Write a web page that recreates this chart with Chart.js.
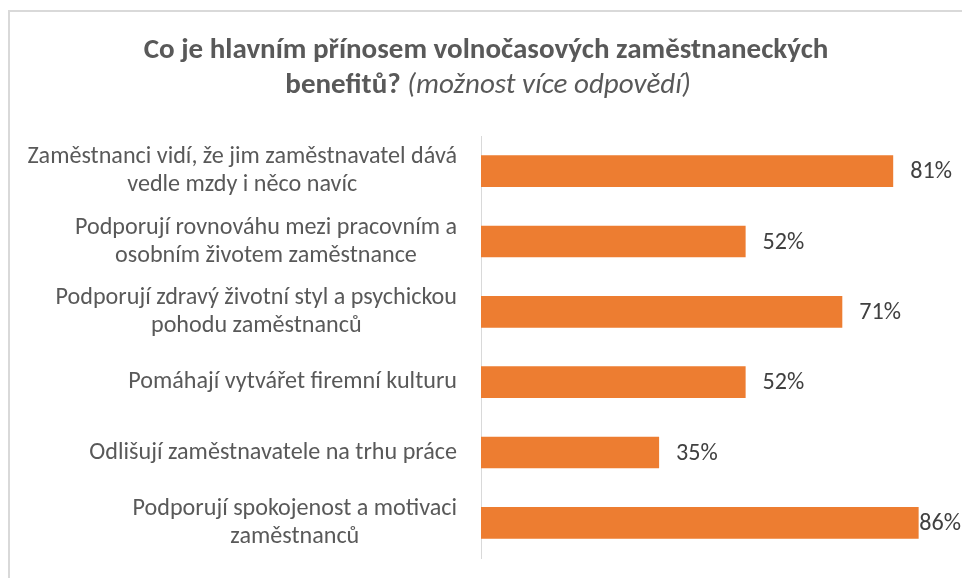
<!DOCTYPE html>
<html>
<head>
<meta charset="utf-8">
<script src="https://cdn.jsdelivr.net/npm/chart.js@4.4.0/dist/chart.umd.min.js"></script>
<style>
  html, body { margin: 0; padding: 0; background: #ffffff; }
  #wrap { width: 962px; height: 578px; position: relative; }
</style>
</head>
<body>
<div id="wrap"><canvas id="c" width="962" height="578"></canvas></div>
<script>
// ---- data ----
const titleBold = "Co je hlavním přínosem volnočasových zaměstnaneckých";
const titleBold2 = "benefitů? ";
const titleItalic = "(možnost více odpovědí)";
const categories = [
  ["Zaměstnanci vidí, že jim zaměstnavatel dává", "vedle mzdy i něco navíc"],
  ["Podporují rovnováhu mezi pracovním a", "osobním životem zaměstnance"],
  ["Podporují zdravý životní styl a psychickou", "pohodu zaměstnanců"],
  ["Pomáhají vytvářet firemní kulturu"],
  ["Odlišují zaměstnavatele na trhu práce"],
  ["Podporují spokojenost a motivaci", "zaměstnanců"]
];
const values = [81, 52, 71, 52, 35, 86];
const valueSuffix = "%";

// ---- style ----
const FAMILY = "Carlito, Lato, 'Open Sans', sans-serif";
const measureCtx = document.createElement('canvas').getContext('2d');
function fitSize(text, style, weight, target) {
  measureCtx.font = `${style} ${weight} 100px ${FAMILY}`;
  return 100 * target / measureCtx.measureText(text).width;
}
const titleSize = fitSize(titleBold, 'normal', 'bold', 685);
const labelSize = fitSize(categories[0][0], 'normal', 'normal', 430);

const decorPlugin = {
  id: 'decor',
  beforeDraw(chart) {
    const ctx = chart.ctx;
    ctx.save();
    ctx.fillStyle = '#ffffff';
    ctx.fillRect(0, 0, chart.width, chart.height);
    ctx.strokeStyle = '#d9d9d9';
    ctx.lineWidth = 2;
    ctx.strokeRect(9, 11, 2000, 2000);
    ctx.restore();
  },
  afterDraw(chart) {
    const ctx = chart.ctx;
    ctx.save();
    ctx.fillStyle = '#595959';
    ctx.textBaseline = 'alphabetic';
    // title line 1
    ctx.font = `normal bold ${titleSize}px ${FAMILY}`;
    ctx.textAlign = 'center';
    ctx.fillText(titleBold, 486, 57.5);
    // title line 2 (bold + italic)
    ctx.textAlign = 'left';
    ctx.font = `normal bold ${titleSize}px ${FAMILY}`;
    const w1 = ctx.measureText(titleBold2).width;
    ctx.font = `italic normal ${titleSize}px ${FAMILY}`;
    const w2 = ctx.measureText(titleItalic).width;
    const x0 = 488 - (w1 + w2) / 2;
    ctx.font = `normal bold ${titleSize}px ${FAMILY}`;
    ctx.fillText(titleBold2, x0, 93);
    ctx.font = `italic normal ${titleSize}px ${FAMILY}`;
    ctx.fillText(titleItalic, x0 + w1, 93);

    // category labels (centered block, right aligned)
    const yScale = chart.scales.y;
    ctx.font = `normal normal ${labelSize}px ${FAMILY}`;
    ctx.textBaseline = 'middle';
    ctx.textAlign = 'center';
    const lh = 28;
    categories.forEach((lines, i) => {
      const yc = yScale.getPixelForValue(i);
      const maxW = Math.max(...lines.map(l => ctx.measureText(l).width));
      const cx = yScale.right - 24 - maxW / 2;
      lines.forEach((l, j) => {
        const y = yc + (j - (lines.length - 1) / 2) * lh;
        ctx.fillText(l, cx, y);
      });
    });

    // value labels
    ctx.fillStyle = '#404040';
    ctx.textAlign = 'left';
    const meta = chart.getDatasetMeta(0);
    meta.data.forEach((bar, i) => {
      const txt = values[i] + valueSuffix;
      const w = ctx.measureText(txt).width;
      const x = Math.min(bar.x + 17, chart.width - w - 1);
      ctx.fillText(txt, x, bar.y + 1);
    });
    ctx.restore();
  }
};

new Chart(document.getElementById('c'), {
  type: 'bar',
  data: {
    labels: categories,
    datasets: [{
      data: values,
      backgroundColor: '#ED7D31',
      borderWidth: 0,
      barPercentage: 0.45,
      categoryPercentage: 1.0
    }]
  },
  options: {
    indexAxis: 'y',
    responsive: false,
    animation: false,
    layout: { padding: { top: 136, bottom: 20, left: 0, right: 23 } },
    plugins: { legend: { display: false }, tooltip: { enabled: false }, title: { display: false } },
    scales: {
      x: { display: false, min: 0, max: 90 },
      y: {
        afterFit(scale) { scale.width = 481; },
        grid: { display: false },
        border: { display: true, color: '#d9d9d9', width: 1 },
        ticks: { display: false }
      }
    }
  },
  plugins: [decorPlugin]
});
</script>
</body>
</html>
